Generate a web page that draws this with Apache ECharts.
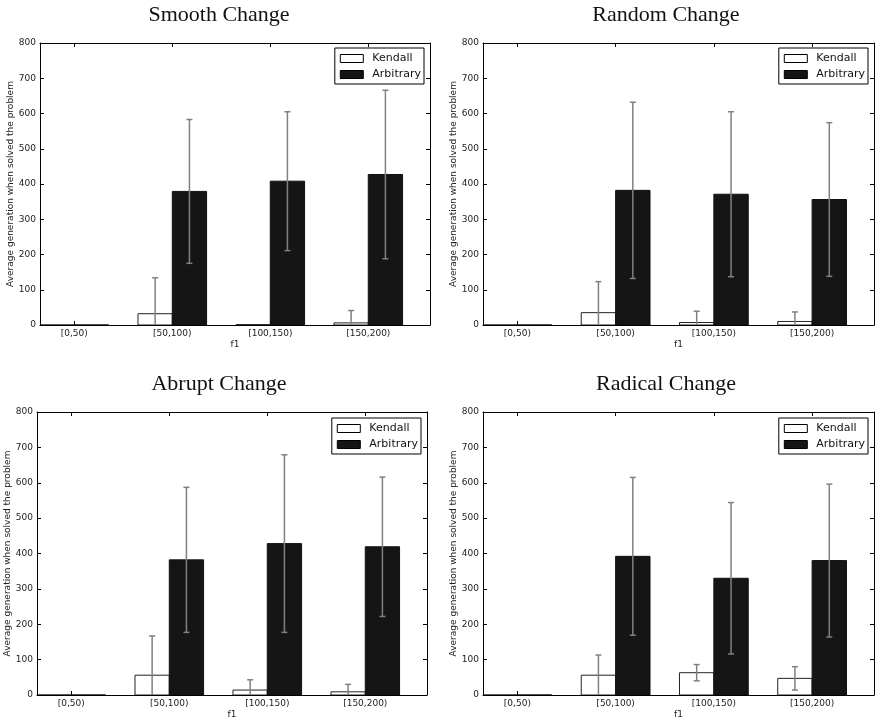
<!DOCTYPE html>
<html>
<head>
<meta charset="utf-8">
<title>Average generation when solved the problem</title>
<script src="https://cdn.jsdelivr.net/npm/echarts@6/dist/echarts.min.js"></script>
<style>
  html, body { margin: 0; padding: 0; background: #fff; }
  #chart { width: 876px; height: 721px; }
</style>
</head>
<body>
<div id="chart"></div>
<script>
// f1 bins shared by all four panels
const categories = ['[0,50)', '[50,100)', '[100,150)', '[150,200)'];
const panelTitles = ['Smooth Change', 'Random Change', 'Abrupt Change', 'Radical Change'];
const yTicks = [0, 100, 200, 300, 400, 500, 600, 700, 800];

// Mean generation and standard deviation per bin
const smoothKendall      = [0, 32, 1, 6];
const smoothKendallSd    = [0, 102, 0, 35];
const smoothArbitrary    = [0, 379, 408, 427];
const smoothArbitrarySd  = [0, 204, 197, 239];

const randomKendall      = [0, 35, 7, 10];
const randomKendallSd    = [0, 88, 32, 27];
const randomArbitrary    = [0, 382, 371, 356];
const randomArbitrarySd  = [0, 250, 234, 218];

const abruptKendall      = [0, 56, 14, 9];
const abruptKendallSd    = [0, 111, 29, 21];
const abruptArbitrary    = [0, 382, 428, 419];
const abruptArbitrarySd  = [0, 205, 251, 197];

const radicalKendall     = [0, 56, 63, 47];
const radicalKendallSd   = [0, 57, 23, 33];
const radicalArbitrary   = [0, 392, 330, 380];
const radicalArbitrarySd = [0, 223, 214, 216];

const panelData = [
  { k: smoothKendall,  kSd: smoothKendallSd,  a: smoothArbitrary,  aSd: smoothArbitrarySd },
  { k: randomKendall,  kSd: randomKendallSd,  a: randomArbitrary,  aSd: randomArbitrarySd },
  { k: abruptKendall,  kSd: abruptKendallSd,  a: abruptArbitrary,  aSd: abruptArbitrarySd },
  { k: radicalKendall, kSd: radicalKendallSd, a: radicalArbitrary, aSd: radicalArbitrarySd }
];

// Panel geometry (pixels)
const grids = [
  { left: 40,  top: 43,  width: 390, height: 282 },
  { left: 483, top: 43,  width: 391, height: 282 },
  { left: 37,  top: 412, width: 390, height: 283 },
  { left: 483, top: 412, width: 391, height: 283 }
];
const titlePos = [
  { x: 219, y: 4 }, { x: 666, y: 4 }, { x: 219, y: 373 }, { x: 666, y: 373 }
];
const legendPos = [
  { right: 452, top: 48 }, { right: 8, top: 48 }, { right: 455, top: 418 }, { right: 8, top: 418 }
];
const yNameGap = [24, 24, 25, 23];

const BAR_W = 0.35;          // bar width in x units
const X_MIN = -0.35, X_MAX = 3.63;
const ARB_COLOR = '#151515';
const ERR_COLOR = '#808080';
const FONT = 'DejaVu Sans';

function barRenderer(offset) {
  return function (params, api) {
    const x = api.value(0);
    const y = api.value(1);
    const p0 = api.coord([x + offset, y]);
    const p1 = api.coord([x + offset + BAR_W, 0]);
    return {
      type: 'rect',
      shape: { x: p0[0], y: p0[1], width: p1[0] - p0[0], height: p1[1] - p0[1] },
      style: api.style()
    };
  };
}

function errRenderer(offset) {
  return function (params, api) {
    const x = api.value(0) + offset + BAR_W / 2;
    const m = api.value(1);
    const sd = api.value(2);
    if (!sd) return null;
    const top = api.coord([x, m + sd]);
    const bot = api.coord([x, m - sd]);
    const cap = 3;
    const st = { stroke: ERR_COLOR, lineWidth: 1.5 };
    return {
      type: 'group',
      children: [
        { type: 'line', shape: { x1: top[0], y1: top[1], x2: bot[0], y2: bot[1] }, style: st },
        { type: 'line', shape: { x1: top[0] - cap, y1: top[1], x2: top[0] + cap, y2: top[1] }, style: st },
        { type: 'line', shape: { x1: bot[0] - cap, y1: bot[1], x2: bot[0] + cap, y2: bot[1] }, style: st }
      ]
    };
  };
}

const option = {
  animation: false,
  backgroundColor: '#ffffff',
  title: [], grid: [], xAxis: [], yAxis: [], legend: [], series: []
};

panelTitles.forEach(function (t, i) {
  option.title.push({
    text: t, left: titlePos[i].x, top: titlePos[i].y, textAlign: 'center', padding: 0,
    textStyle: { fontFamily: 'Liberation Serif', fontSize: 22, fontWeight: 'normal', color: '#111' }
  });
  option.grid.push(Object.assign({ containLabel: false }, grids[i]));

  const tickStyle = { show: true, inside: true, length: 4, lineStyle: { color: '#000', width: 1 } };
  // bottom x axis with bin labels
  option.xAxis.push({
    type: 'value', gridIndex: i, min: X_MIN, max: X_MAX, position: 'bottom',
    name: 'f1', nameLocation: 'middle', nameGap: 15,
    nameTextStyle: { fontFamily: FONT, fontSize: 9, color: '#222' },
    axisLine: { show: true, onZero: false, lineStyle: { color: '#000', width: 1 } },
    axisTick: Object.assign({ customValues: [0, 1, 2, 3] }, tickStyle),
    axisLabel: {
      customValues: [0, 1, 2, 3], margin: 4, fontFamily: FONT, fontSize: 9, color: '#222',
      formatter: function (v) { return categories[Math.round(v)]; }
    },
    splitLine: { show: false }
  });
  // top frame edge
  option.xAxis.push({
    type: 'value', gridIndex: i, min: X_MIN, max: X_MAX, position: 'top',
    axisLine: { show: true, onZero: false, lineStyle: { color: '#000', width: 1 } },
    axisTick: Object.assign({ customValues: [0, 1, 2, 3] }, tickStyle),
    axisLabel: { show: false }, splitLine: { show: false }
  });
  option.yAxis.push({
    type: 'value', gridIndex: i, min: 0, max: 800, interval: 100, position: 'left',
    name: 'Average generation when solved the problem', nameLocation: 'middle',
    nameGap: yNameGap[i], nameRotate: 90,
    nameTextStyle: { fontFamily: FONT, fontSize: 9, color: '#222' },
    axisLine: { show: true, onZero: false, lineStyle: { color: '#000', width: 1 } },
    axisTick: tickStyle,
    axisLabel: { margin: 4, fontFamily: FONT, fontSize: 9, color: '#222',
      formatter: function (v) { return yTicks.indexOf(v) >= 0 ? String(v) : ''; } },
    splitLine: { show: false }
  });
  option.yAxis.push({
    type: 'value', gridIndex: i, min: 0, max: 800, interval: 100, position: 'right',
    axisLine: { show: true, onZero: false, lineStyle: { color: '#000', width: 1 } },
    axisTick: tickStyle, axisLabel: { show: false }, splitLine: { show: false }
  });

  option.legend.push({
    orient: 'vertical', right: legendPos[i].right, top: legendPos[i].top,
    backgroundColor: '#fff', borderColor: '#000', borderWidth: 1,
    padding: [5, 3, 4, 5], itemGap: 5, itemWidth: 23, itemHeight: 8,
    selectedMode: false,
    textStyle: { fontFamily: FONT, fontSize: 11, color: '#111', padding: [0, 0, 0, 4] },
    data: [
      { name: 'Kendall', icon: 'rect', itemStyle: { color: '#fff', borderColor: '#000', borderWidth: 1 } },
      { name: 'Arbitrary', icon: 'rect', itemStyle: { color: ARB_COLOR, borderColor: '#000', borderWidth: 1 } }
    ]
  });

  const d = panelData[i];
  const xi = 2 * i, yi = 2 * i;
  const kData = categories.map(function (c, j) { return [j, d.k[j], d.kSd[j]]; });
  const aData = categories.map(function (c, j) { return [j, d.a[j], d.aSd[j]]; });

  option.series.push({
    type: 'custom', name: 'Kendall', xAxisIndex: xi, yAxisIndex: yi, clip: true,
    renderItem: barRenderer(-BAR_W), encode: { x: 0, y: 1 }, data: kData,
    itemStyle: { color: '#fff', borderColor: '#222', borderWidth: 1 }, z: 2
  });
  option.series.push({
    type: 'custom', name: 'Arbitrary', xAxisIndex: xi, yAxisIndex: yi, clip: true,
    renderItem: barRenderer(0), encode: { x: 0, y: 1 }, data: aData,
    itemStyle: { color: ARB_COLOR, borderColor: '#111', borderWidth: 1 }, z: 2
  });
  option.series.push({
    type: 'custom', name: 'Kendall', xAxisIndex: xi, yAxisIndex: yi, clip: true,
    renderItem: errRenderer(-BAR_W), encode: { x: 0, y: 1 }, data: kData, z: 3
  });
  option.series.push({
    type: 'custom', name: 'Arbitrary', xAxisIndex: xi, yAxisIndex: yi, clip: true,
    renderItem: errRenderer(0), encode: { x: 0, y: 1 }, data: aData, z: 3
  });
});

const chart = echarts.init(document.getElementById('chart'), null, { renderer: 'canvas' });
chart.setOption(option);
</script>
</body>
</html>
